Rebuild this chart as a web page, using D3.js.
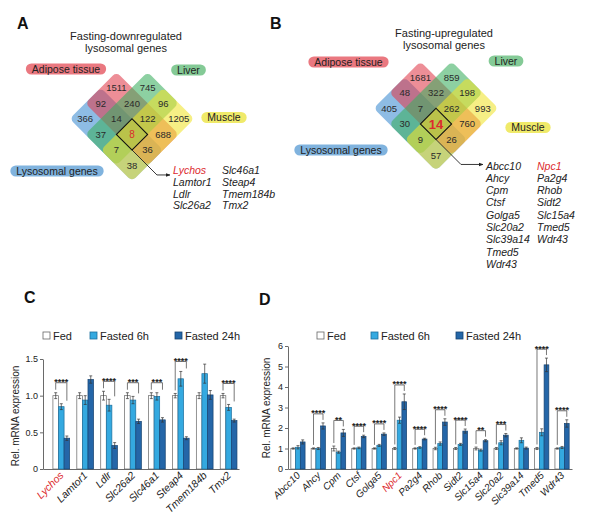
<!DOCTYPE html>
<html>
<head>
<meta charset="utf-8">
<script src="https://cdn.jsdelivr.net/npm/d3@7"></script>
<style>
body{margin:0;background:#fff;}
svg{font-family:"Liberation Sans",Arial,sans-serif;}
</style>
</head>
<body>
<svg id="fig" width="600" height="526"></svg>
<script>
// ---------------- data ----------------
// venn regions: A=adipose, L=liver, M=muscle, S=lysosomal genes
var vennSets = ["A","L","M","S"];
var vennSetNames = ["Adipose tissue","Liver","Muscle","Lysosomal genes"];
var vennRegions = ["A","L","AS","AL","LM","S","ALS","ALM","M","LS","ALMS","AM","LMS","AMS","MS"];
var vennDownCounts = [1511,745,92,240,96,366,14,122,1205,37,8,688,7,36,38];
var vennUpCounts = [1681,859,48,322,198,405,7,262,993,30,14,760,9,26,57];

var downGenes = ["Lychos","Lamtor1","Ldlr","Slc26a2","Slc46a1","Steap4","Tmem184b","Tmx2"];
var upGenes = ["Abcc10","Ahcy","Cpm","Ctsf","Golga5","Slc20a2","Slc39a14","Tmed5","Wdr43",
               "Npc1","Pa2g4","Rhob","Sidt2","Slc15a4","Tmed5","Wdr43"];
var highlightGenes = ["Lychos","Npc1"];

var conditions = ["Fed","Fasted 6h","Fasted 24h"];

var cGenes = ["Lychos","Lamtor1","Ldlr","Slc26a2","Slc46a1","Steap4","Tmem184b","Tmx2"];
var cFed = [1.00,1.00,1.00,1.00,1.00,1.00,1.00,1.00];
var cFast6 = [0.85,0.94,0.87,0.94,0.99,1.23,1.30,0.84];
var cFast24 = [0.42,1.22,0.32,0.65,0.67,0.42,1.01,0.66];
var cFedErr = [0.04,0.04,0.06,0.04,0.04,0.03,0.04,0.03];
var cFast6Err = [0.04,0.06,0.08,0.05,0.05,0.10,0.13,0.04];
var cFast24Err = [0.03,0.05,0.04,0.03,0.03,0.02,0.06,0.02];
var cSig = ["****","","****","***","***","****","","****"];
var cTicks = [0,0.5,1.0,1.5];

var dGenes = ["Abcc10","Ahcy","Cpm","Ctsf","Golga5","Npc1","Pa2g4","Rhob","Sidt2","Slc15a4","Slc20a2","Slc39a14","Tmed5","Wdr43"];
var dFed = [1,1,1,1,1,1,1,1,1,1,1,1,1,1];
var dFast6 = [1.06,1.00,0.82,1.03,1.15,2.38,1.05,1.24,1.20,0.92,1.28,1.40,1.79,1.05];
var dFast24 = [1.32,2.10,1.76,1.59,1.70,3.28,1.46,2.29,1.85,1.38,1.65,1.02,5.08,2.22];
var dFedErr = [0.03,0.03,0.12,0.03,0.03,0.05,0.03,0.06,0.05,0.07,0.05,0.03,0.05,0.03];
var dFast6Err = [0.08,0.05,0.05,0.04,0.05,0.15,0.04,0.08,0.05,0.05,0.10,0.12,0.17,0.05];
var dFast24Err = [0.10,0.15,0.17,0.06,0.06,0.38,0.04,0.16,0.10,0.05,0.08,0.05,0.33,0.18];
var dSig = ["","****","**","****","****","****","****","****","****","**","***","","****","****"];
var dTicks = [0,1,2,3,4,5,6];

// ---------------- styles ----------------
var RED = "#dc2a2e";
var PILL_COLORS = ["#ea7880","#84ca96","#f0ea6a","#80b3de"];
var VENN_COLORS = ["#e03c4c","#3aae5e","#f0e42c","#3c8cd0"];
var BAR_FILL = ["#ffffff","#34a9e0","#2466a8"];
var BAR_STROKE = ["#666666","#1d6f9e","#16426f"];

var svg = d3.select("#fig");

svg.append("defs").append("marker")
	.attr("id","arrow")
	.attr("viewBox","0 0 10 10")
	.attr("refX",9).attr("refY",5)
	.attr("markerWidth",5).attr("markerHeight",5)
	.attr("orient","auto")
	.append("path").attr("d","M0,1L10,5L0,9z").style("fill","#222");

function _panelLetter(txt,x,y){
	svg.append("text").attr("x",x).attr("y",y)
		.attr("font-size","16px").attr("font-weight","bold").style("fill","#111").text(txt);
}

// which rotated cell (u = liver/muscle axis, v = adipose/lyso axis) a region sits in
function _cellOf(key){
	var A = key.indexOf("A")>=0, L = key.indexOf("L")>=0, M = key.indexOf("M")>=0, S = key.indexOf("S")>=0;
	var u = (L&&M) ? 2 : L ? 1 : M ? 3 : 0;
	var v = (A&&S) ? 2 : A ? 1 : S ? 3 : 0;
	return [u,v];
}

// ---------------- venn ----------------
function drawVenn(cfg){
	var g = svg.append("g");
	var d = cfg.d, s = d*Math.SQRT2;
	var unit = d3.scaleLinear().domain([0,1]).range([0,d]);
	var side = d3.scaleLinear().domain([0,1]).range([0,s]);
	var top = cfg.y0 - d;

	cfg.title.forEach(function(t,i){
		g.append("text").attr("x",cfg.titleX).attr("y",cfg.titleY+i*12)
			.attr("text-anchor","middle").attr("font-size","11px").style("fill","#222").text(t);
	});

	// set bands in rotated cell space
	var bands = {A:{u:[0,4],v:[1,3]}, L:{u:[1,3],v:[0,4]}, M:{u:[2,4],v:[0,4]}, S:{u:[0,4],v:[2,4]}};
	var order = ["S","A","L","M"];
	var rot = g.append("g").attr("transform","translate("+cfg.x0+","+top+") rotate(45)");
	order.forEach(function(k){
		var b = bands[k], i = vennSets.indexOf(k);
		rot.append("rect")
			.attr("x",side(b.u[0])).attr("y",side(b.v[0]))
			.attr("width",side(b.u[1]-b.u[0])).attr("height",side(b.v[1]-b.v[0]))
			.attr("rx",5).attr("ry",5)
			.style("fill",VENN_COLORS[i]).style("fill-opacity",0.58);
	});

	// outline of the all-four cell
	rot.append("rect").attr("x",side(2)).attr("y",side(2)).attr("width",side(1)).attr("height",side(1))
		.style("fill","none").style("stroke","#111").style("stroke-width",1.1);

	// counts
	vennRegions.forEach(function(r,i){
		var c = _cellOf(r);
		var isCore = (r=="ALMS");
		g.append("text")
			.attr("x",cfg.x0+unit(c[0]-c[1]))
			.attr("y",top+unit(c[0]+c[1]+1))
			.attr("dy","0.36em").attr("text-anchor","middle")
			.attr("font-size", isCore ? cfg.coreSize : "9.5px")
			.attr("font-weight", isCore ? cfg.coreWeight : "normal")
			.style("fill", isCore ? RED : "#2a2a2a")
			.text(cfg.counts[i]);
	});

	// set labels as pills
	vennSetNames.forEach(function(n,i){
		var p = cfg.labels[i];
		var lg = g.append("g");
		var t = lg.append("text").attr("x",p[0]).attr("y",p[1]).attr("dy","0.36em")
			.attr("text-anchor","middle").attr("font-size","10.5px").style("fill","#222").text(n);
		var w = t.node().getComputedTextLength()+12;
		lg.insert("rect","text").attr("x",p[0]-w/2).attr("y",p[1]-5.5).attr("width",w).attr("height",11)
			.attr("rx",5.5).style("fill",PILL_COLORS[i]);
	});

	// leader arrow to the gene list
	g.append("path")
		.attr("d","M"+(cfg.x0+unit(0))+","+(top+unit(6))+"L"+(cfg.x0+unit(1.6))+","+(top+unit(7.6))+"H"+(cfg.listX-3))
		.style("fill","none").style("stroke","#222").style("stroke-width",0.9)
		.attr("marker-end","url(#arrow)");

	// gene list in two columns
	cfg.genes.forEach(function(gn,i){
		var col = i < cfg.split ? 0 : 1;
		var row = col==0 ? i : i-cfg.split;
		g.append("text")
			.attr("x",col==0 ? cfg.listX : cfg.listX2)
			.attr("y",cfg.listY+row*cfg.lineH)
			.attr("font-size","10.5px").attr("font-style","italic")
			.style("fill", highlightGenes.indexOf(gn)>=0 ? RED : "#222")
			.text(gn);
	});
}

// ---------------- bar charts ----------------
function drawBars(cfg){
	var g = svg.append("g");
	var vals = [cfg.fed,cfg.f6,cfg.f24];
	var errs = [cfg.fedErr,cfg.f6Err,cfg.f24Err];

	var x = d3.scaleBand().domain(cfg.genes).range(cfg.xRange)
		.paddingInner(0.3).paddingOuter(cfg.padOuter).align(cfg.align);
	var xs = d3.scaleBand().domain(conditions).range([0,x.bandwidth()]);
	var y = d3.scaleLinear().domain(cfg.yDomain).range([469,cfg.yTop]);

	// legend
	conditions.forEach(function(c,j){
		g.append("rect").attr("x",cfg.legendX[j]).attr("y",332).attr("width",7).attr("height",7)
			.style("fill",BAR_FILL[j]).style("stroke",BAR_STROKE[j]).style("stroke-width",0.8);
		g.append("text").attr("x",cfg.legendX[j]+10).attr("y",339.5)
			.attr("font-size","11px").style("fill","#222").text(c);
	});

	// axes
	var ya = g.append("g").attr("transform","translate("+cfg.xRange[0]+",0)")
		.call(d3.axisLeft(y).tickValues(cfg.ticks).tickFormat(cfg.fmt).tickSize(3).tickSizeOuter(0).tickPadding(2));
	ya.selectAll("text").attr("font-size","9px").style("fill","#222");
	ya.selectAll("line,path").style("stroke","#444").style("stroke-width",0.8);

	var xa = g.append("g").attr("transform","translate(0,469)")
		.call(d3.axisBottom(x).tickSize(0).tickSizeOuter(0));
	xa.select("path").style("stroke","#444").style("stroke-width",0.8);
	xa.selectAll("text")
		.attr("x",0).attr("y",0).attr("dy",null)
		.attr("transform","translate(3,7) rotate(-45)")
		.attr("text-anchor","end").attr("font-size",cfg.labelSize).attr("font-style","italic")
		.style("fill",function(d){return highlightGenes.indexOf(d)>=0 ? RED : "#222";});

	g.append("text")
		.attr("transform","translate("+cfg.yLabelX+","+cfg.yLabelY+") rotate(-90)")
		.attr("text-anchor","middle").attr("font-size","10px").style("fill","#222")
		.text("Rel. mRNA expression");

	// bars + error bars
	cfg.genes.forEach(function(gn,i){
		var gg = g.append("g").attr("transform","translate("+x(gn)+",0)");
		conditions.forEach(function(c,j){
			var v = vals[j][i], e = errs[j][i];
			var bx = xs(c), bw = xs.bandwidth(), cx = bx+bw/2;
			gg.append("rect").attr("x",bx).attr("y",y(v)).attr("width",bw).attr("height",y(0)-y(v))
				.style("fill",BAR_FILL[j]).style("stroke",BAR_STROKE[j]).style("stroke-width",0.7);
			gg.append("path")
				.attr("d","M"+cx+","+y(v-e)+"V"+y(v+e)+"M"+(cx-1.5)+","+y(v+e)+"h3M"+(cx-1.5)+","+y(v-e)+"h3")
				.style("stroke","#333").style("stroke-width",0.7).style("fill","none");
		});

		// significance bracket Fed vs Fasted 24h
		if (cfg.sig[i]){
			var fedTop = y(vals[0][i]+errs[0][i]);
			var restTop = Math.min(y(vals[1][i]+errs[1][i]), y(vals[2][i]+errs[2][i]));
			var lvl = Math.min(fedTop,restTop) - cfg.bracketGap;
			var x1 = xs(conditions[0])+xs.bandwidth()/2, x2 = xs(conditions[2])+xs.bandwidth()/2;
			gg.append("path")
				.attr("d","M"+x1+","+(fedTop-3)+"V"+lvl+"H"+x2+"V"+(restTop-3))
				.style("stroke","#555").style("stroke-width",0.8).style("fill","none");
			gg.append("text").attr("x",(x1+x2)/2).attr("y",lvl+2.5)
				.attr("text-anchor","middle").attr("font-size","9px").attr("font-weight","bold")
				.style("fill","#222").text(cfg.sig[i]);
		}
	});
}

// ---------------- draw ----------------
_panelLetter("A",17,29);
_panelLetter("B",270,29);
_panelLetter("C",24,303);
_panelLetter("D",259,305);

drawVenn({
	x0:132, y0:72, d:15.6,
	title:["Fasting-downregulated","lysosomal genes"], titleX:126, titleY:40,
	counts:vennDownCounts, coreSize:"10px", coreWeight:"normal",
	labels:[[66,69],[188.5,70],[224,117.5],[57,171]],
	genes:downGenes, split:4, listX:173, listX2:222, listY:174, lineH:11.8
});

drawVenn({
	x0:436, y0:61.5, d:15.6,
	title:["Fasting-upregulated","lysosomal genes"], titleX:444, titleY:37,
	counts:vennUpCounts, coreSize:"13px", coreWeight:"bold",
	labels:[[348.5,62],[506,61],[528,127.5],[341,150]],
	genes:upGenes, split:9, listX:486, listX2:537, listY:169.5, lineH:12.3
});

drawBars({
	genes:cGenes, fed:cFed, f6:cFast6, f24:cFast24,
	fedErr:cFedErr, f6Err:cFast6Err, f24Err:cFast24Err, sig:cSig,
	xRange:[43,239], padOuter:0.25, align:0.83,
	yDomain:[0,1.5], yTop:359, ticks:cTicks, fmt:function(v){return v==0 ? "0" : d3.format(".1f")(v);},
	legendX:[43,90,175], yLabelX:19, yLabelY:416, labelSize:"10.5px", bracketGap:10
});

drawBars({
	genes:dGenes, fed:dFed, f6:dFast6, f24:dFast24,
	fedErr:dFedErr, f6Err:dFast6Err, f24Err:dFast24Err, sig:dSig,
	xRange:[288,572], padOuter:0.14, align:0.5,
	yDomain:[0,6], yTop:346, ticks:dTicks, fmt:d3.format("d"),
	legendX:[317,371,456], yLabelX:270, yLabelY:408, labelSize:"10px", bracketGap:9
});
</script>
</body>
</html>
